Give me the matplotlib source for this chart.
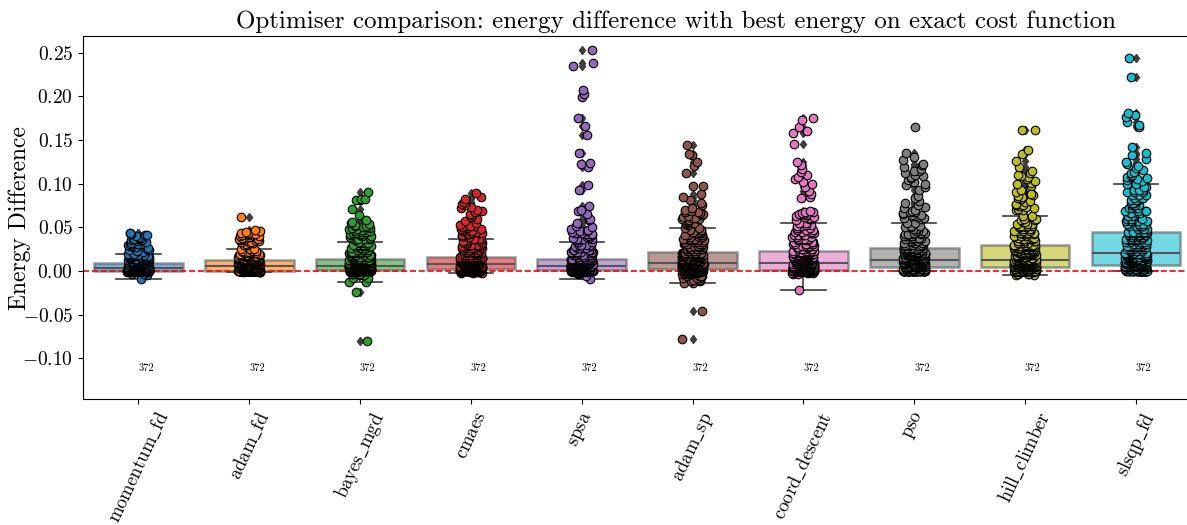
import numpy as np
import matplotlib
matplotlib.use('Agg')
import matplotlib.pyplot as plt

plt.rcParams['font.family'] = 'serif'
plt.rcParams['font.serif'] = ['cmr10', 'DejaVu Serif']
plt.rcParams['mathtext.fontset'] = 'cm'
plt.rcParams['axes.formatter.use_mathtext'] = True

#%% energy differences per optimiser
# dense part near zero is kept as value levels + how many runs hit each level,
# the sparse upper tail is kept run by run
methods = ['momentum_fd', 'adam_fd', 'bayes_mgd', 'cmaes', 'spsa',
           'adam_sp', 'coord_descent', 'pso', 'hill_climber', 'slsqp_fd']

momentum_fd_core = [-0.0095, -0.005, -0.003, -0.001, 0.0, 0.0004, 0.001, 0.002, 0.003, 0.004, 0.005, 0.006, 0.007,
                    0.008, 0.009, 0.010, 0.011, 0.012, 0.013, 0.014, 0.015, 0.016, 0.017, 0.018, 0.0195]
momentum_fd_core_n = [1, 1, 2, 4, 50, 40, 30, 40, 30, 20, 18, 16, 14, 10, 10, 8, 8, 7, 6, 6, 5, 5, 4, 4, 3]
momentum_fd_tail = [0.022, 0.023, 0.024, 0.024, 0.025, 0.026, 0.027, 0.027, 0.028, 0.029, 0.030, 0.031, 0.031, 0.032,
                    0.033, 0.034, 0.035, 0.035, 0.036, 0.036, 0.037, 0.038, 0.038, 0.039, 0.040, 0.041, 0.041, 0.042,
                    0.043, 0.044]

adam_fd_core = [-0.0015, -0.0008, 0.0, 0.0003, 0.001, 0.002, 0.003, 0.004, 0.005, 0.006, 0.007, 0.008, 0.009, 0.010,
                0.011, 0.012, 0.013, 0.014, 0.015, 0.016, 0.017, 0.018, 0.019, 0.020, 0.021, 0.022, 0.023, 0.0248]
adam_fd_core_n = [1, 3, 60, 35, 15, 15, 15, 15, 15, 15, 15, 15, 15, 16, 16, 14, 10, 8, 7, 6, 5, 5, 4, 4, 4, 3, 3, 3]
adam_fd_tail = [0.030, 0.030, 0.031, 0.032, 0.032, 0.033, 0.033, 0.034, 0.034, 0.035, 0.035, 0.036, 0.036, 0.037,
                0.037, 0.038, 0.038, 0.039, 0.040, 0.040, 0.041, 0.041, 0.042, 0.042, 0.043, 0.044, 0.045, 0.046,
                0.047, 0.062]

bayes_mgd_core = [-0.080, -0.0237, -0.0122, -0.008, -0.005, -0.003, -0.001, 0.0, 0.001, 0.002, 0.003, 0.004, 0.005,
                  0.006, 0.007, 0.008, 0.009, 0.010, 0.011, 0.012, 0.013, 0.014, 0.016, 0.018, 0.020, 0.022, 0.024,
                  0.026, 0.028, 0.030, 0.032, 0.0334]
bayes_mgd_core_n = [1, 1, 2, 2, 2, 3, 4, 40, 40, 18, 18, 18, 18, 20, 14, 12, 12, 11, 11, 11, 11, 11, 8, 7, 6, 6, 5,
                    5, 4, 4, 3, 2]
bayes_mgd_tail = [0.035, 0.036, 0.036, 0.037, 0.037, 0.038, 0.038, 0.039, 0.040, 0.040, 0.041, 0.041, 0.042, 0.042,
                  0.043, 0.044, 0.044, 0.045, 0.045, 0.046, 0.046, 0.047, 0.048, 0.048, 0.049, 0.049, 0.050, 0.050,
                  0.051, 0.052, 0.053, 0.054, 0.055, 0.056, 0.058, 0.064, 0.071, 0.081, 0.081, 0.082, 0.082, 0.090]

cmaes_core = [-0.0027, -0.002, -0.001, 0.0, 0.001, 0.002, 0.003, 0.004, 0.005, 0.006, 0.007, 0.008, 0.009, 0.010,
              0.011, 0.012, 0.013, 0.014, 0.015, 0.016, 0.018, 0.020, 0.022, 0.024, 0.026, 0.028, 0.030, 0.032,
              0.034, 0.0365]
cmaes_core_n = [1, 2, 4, 30, 30, 30, 15, 15, 15, 15, 15, 15, 12, 12, 12, 11, 11, 11, 11, 12, 8, 7, 7, 6, 6, 5, 5, 4,
                4, 3]
cmaes_tail = [0.039, 0.040, 0.040, 0.041, 0.042, 0.042, 0.043, 0.044, 0.044, 0.045, 0.046, 0.046, 0.047, 0.048,
              0.048, 0.049, 0.050, 0.050, 0.051, 0.052, 0.053, 0.055, 0.057, 0.060, 0.062, 0.064, 0.065, 0.067,
              0.069, 0.070, 0.072, 0.073, 0.075, 0.077, 0.079, 0.082, 0.085, 0.0896]

spsa_core = [-0.0095, -0.006, -0.004, -0.002, -0.001, 0.0, 0.001, 0.002, 0.003, 0.004, 0.005, 0.006, 0.007, 0.008,
             0.009, 0.010, 0.011, 0.012, 0.013, 0.014, 0.016, 0.018, 0.020, 0.022, 0.024, 0.026, 0.028, 0.030, 0.033]
spsa_core_n = [1, 1, 2, 3, 4, 45, 40, 18, 18, 18, 18, 19, 14, 13, 13, 13, 13, 13, 7, 8, 7, 7, 6, 6, 5, 5, 4, 4, 3]
spsa_tail = [0.035, 0.036, 0.036, 0.037, 0.038, 0.038, 0.039, 0.040, 0.040, 0.041, 0.042, 0.042, 0.043, 0.044,
             0.044, 0.045, 0.046, 0.046, 0.047, 0.048, 0.050, 0.052, 0.055, 0.058, 0.060, 0.065, 0.069, 0.0694,
             0.0748, 0.093, 0.098, 0.119, 0.122, 0.124, 0.135, 0.156, 0.166, 0.175, 0.199, 0.203, 0.207, 0.235,
             0.238, 0.253]

adam_sp_core = [-0.0778, -0.0458, -0.0141, -0.012, -0.010, -0.008, -0.006, -0.004, -0.002, -0.001, 0.0, 0.001,
                0.002, 0.003, 0.004, 0.005, 0.006, 0.007, 0.008, 0.009, 0.010, 0.011, 0.012, 0.013, 0.014, 0.015,
                0.016, 0.017, 0.018, 0.019, 0.020, 0.021, 0.023, 0.025, 0.027, 0.029, 0.031, 0.033, 0.035, 0.037,
                0.039, 0.041, 0.043, 0.045, 0.047, 0.049]
adam_sp_core_n = [1, 1, 2, 2, 3, 3, 4, 5, 6, 6, 30, 30, 12, 12, 12, 12, 12, 12, 12, 10, 8, 8, 8, 7, 7, 7, 7, 7, 7,
                  7, 8, 11, 6, 6, 5, 5, 5, 4, 4, 4, 4, 4, 3, 3, 3, 2]
adam_sp_tail = [0.053, 0.054, 0.055, 0.055, 0.056, 0.057, 0.058, 0.058, 0.059, 0.060, 0.061, 0.061, 0.062, 0.063,
                0.064, 0.065, 0.066, 0.067, 0.068, 0.069, 0.070, 0.072, 0.076, 0.078, 0.081, 0.085, 0.088, 0.097,
                0.0976, 0.1125, 0.120, 0.125, 0.133, 0.134, 0.1438]

coord_descent_core = [-0.0217, -0.004, -0.002, -0.001, 0.0, 0.001, 0.002, 0.003, 0.004, 0.005, 0.006, 0.007, 0.008,
                      0.009, 0.010, 0.011, 0.012, 0.013, 0.014, 0.015, 0.016, 0.017, 0.018, 0.019, 0.020, 0.021,
                      0.022, 0.023, 0.025, 0.027, 0.029, 0.031, 0.033, 0.035, 0.037, 0.039, 0.041, 0.043, 0.045,
                      0.047, 0.049, 0.051, 0.053, 0.0553]
coord_descent_core_n = [1, 2, 3, 4, 40, 45, 11, 11, 11, 11, 11, 12, 12, 12, 8, 8, 8, 7, 7, 7, 7, 6, 6, 6, 6, 6, 6,
                        6, 5, 5, 5, 5, 4, 4, 4, 4, 4, 3, 3, 3, 3, 2, 2, 2]
coord_descent_tail = [0.058, 0.059, 0.060, 0.061, 0.062, 0.062, 0.063, 0.064, 0.065, 0.065, 0.066, 0.067, 0.068,
                      0.069, 0.083, 0.085, 0.088, 0.0915, 0.0965, 0.100, 0.102, 0.105, 0.108, 0.110, 0.1136, 0.117,
                      0.121, 0.125, 0.145, 0.158, 0.160, 0.165, 0.1728, 0.175]

pso_core = [0.0, 0.002, 0.004, 0.005, 0.006, 0.007, 0.008, 0.009, 0.010, 0.011, 0.012, 0.013, 0.014, 0.015, 0.016,
            0.017, 0.018, 0.019, 0.020, 0.021, 0.022, 0.023, 0.024, 0.025, 0.026, 0.028, 0.030, 0.032, 0.034, 0.036,
            0.038, 0.040, 0.042, 0.044, 0.046, 0.048, 0.050, 0.052, 0.0553]
pso_core_n = [50, 25, 20, 10, 10, 10, 10, 10, 10, 10, 11, 11, 8, 8, 8, 7, 7, 7, 7, 7, 7, 7, 7, 6, 7, 5, 5, 5, 4, 4,
              4, 4, 4, 3, 3, 3, 3, 2, 2]
pso_tail = [0.060, 0.061, 0.061, 0.062, 0.063, 0.064, 0.064, 0.065, 0.066, 0.067, 0.068, 0.069, 0.070, 0.072, 0.0736,
            0.076, 0.078, 0.080, 0.083, 0.086, 0.093, 0.0965, 0.098, 0.100, 0.102, 0.104, 0.106, 0.107, 0.109, 0.110,
            0.112, 0.114, 0.115, 0.117, 0.119, 0.121, 0.123, 0.127, 0.130, 0.1354, 0.1644]

hill_climber_core = [-0.0046, -0.003, -0.001, 0.0, 0.002, 0.004, 0.005, 0.006, 0.007, 0.008, 0.009, 0.010, 0.011,
                     0.012, 0.013, 0.014, 0.015, 0.016, 0.017, 0.018, 0.019, 0.020, 0.021, 0.022, 0.023, 0.024,
                     0.025, 0.026, 0.027, 0.028, 0.029, 0.030, 0.032, 0.034, 0.036, 0.038, 0.040, 0.042, 0.044,
                     0.046, 0.048, 0.050, 0.052, 0.054, 0.056, 0.058, 0.060, 0.0633]
hill_climber_core_n = [2, 3, 5, 40, 25, 20, 10, 10, 10, 10, 10, 10, 10, 11, 11, 6, 6, 6, 6, 6, 6, 6, 5, 5, 5, 5, 5,
                       5, 5, 5, 5, 6, 5, 5, 5, 4, 4, 4, 4, 4, 3, 3, 3, 3, 2, 2, 2, 2]
hill_climber_tail = [0.070, 0.070, 0.071, 0.072, 0.073, 0.074, 0.0755, 0.076, 0.077, 0.079, 0.080, 0.082, 0.083,
                     0.085, 0.086, 0.087, 0.090, 0.092, 0.093, 0.095, 0.0976, 0.100, 0.101, 0.103, 0.105, 0.107,
                     0.109, 0.110, 0.112, 0.115, 0.119, 0.126, 0.134, 0.1384, 0.1613, 0.1613, 0.088]

slsqp_fd_core = [0.0, 0.002, 0.004, 0.006, 0.007, 0.008, 0.009, 0.010, 0.011, 0.012, 0.013, 0.014, 0.015, 0.016,
                 0.017, 0.018, 0.019, 0.021, 0.023, 0.025, 0.027, 0.029, 0.031, 0.033, 0.035, 0.037, 0.039, 0.041,
                 0.043, 0.045, 0.048, 0.051, 0.054, 0.057, 0.060, 0.063, 0.066, 0.069, 0.072, 0.075, 0.078, 0.081,
                 0.084, 0.087, 0.090, 0.093, 0.096, 0.0995]
slsqp_fd_core_n = [35, 20, 18, 12, 10, 8, 8, 8, 8, 8, 7, 7, 7, 7, 7, 8, 8, 7, 7, 7, 7, 7, 7, 7, 7, 7, 7, 8, 8, 8, 5,
                   5, 5, 4, 4, 4, 4, 4, 4, 4, 3, 3, 3, 3, 3, 3, 2, 2]
slsqp_fd_tail = [0.103, 0.104, 0.105, 0.106, 0.107, 0.108, 0.109, 0.110, 0.112, 0.113, 0.1156, 0.118, 0.120, 0.123,
                 0.125, 0.128, 0.1327, 0.135, 0.1415, 0.1644, 0.167, 0.171, 0.1758, 0.178, 0.1804, 0.2223, 0.2433]

cores = [momentum_fd_core, adam_fd_core, bayes_mgd_core, cmaes_core, spsa_core,
         adam_sp_core, coord_descent_core, pso_core, hill_climber_core, slsqp_fd_core]
core_ns = [momentum_fd_core_n, adam_fd_core_n, bayes_mgd_core_n, cmaes_core_n, spsa_core_n,
           adam_sp_core_n, coord_descent_core_n, pso_core_n, hill_climber_core_n, slsqp_fd_core_n]
tails = [momentum_fd_tail, adam_fd_tail, bayes_mgd_tail, cmaes_tail, spsa_tail,
         adam_sp_tail, coord_descent_tail, pso_tail, hill_climber_tail, slsqp_fd_tail]

energy_diff = [np.concatenate([np.repeat(c, n), t]) for c, n, t in zip(cores, core_ns, tails)]

#%% plot
colors = plt.cm.tab10.colors
pos = np.arange(len(methods))
edge_grey = '#3d3d3d'

fig = plt.figure(figsize=(11.87, 5.25), dpi=100)
ax = fig.add_axes([0.0699, 0.2394, 0.9337, 0.6920])

bp = ax.boxplot(energy_diff, positions=pos, widths=0.8, patch_artist=True,
                boxprops=dict(linewidth=1.8),
                medianprops=dict(color='#555555', linewidth=1.5),
                whiskerprops=dict(color=edge_grey, linewidth=1.2),
                capprops=dict(color=edge_grey, linewidth=1.2),
                flierprops=dict(marker='d', markerfacecolor=edge_grey, markeredgecolor=edge_grey,
                                markersize=4.5),
                zorder=1)
for box, c in zip(bp['boxes'], colors):
    box.set_facecolor(c)
    box.set_edgecolor('#5a5a5a')
    box.set_alpha(0.6)

ax.axhline(0, color='red', linestyle='--', linewidth=1.2, zorder=2)

# jittered strip of every run on top of the boxes
rng = np.random.default_rng(7)
for i, (vals, c) in enumerate(zip(energy_diff, colors)):
    x = i + rng.uniform(-0.1, 0.1, len(vals))
    ax.scatter(x, vals, s=38, color=c, edgecolor='black', linewidth=0.8, zorder=3)
    ax.text(i, -0.1145, f'{len(vals)}', fontsize=7.5)

# cmr10 has no underscore glyph, so names go through mathtext
tick_names = [r'$\mathrm{' + m.replace('_', r'\_') + '}$' for m in methods]

ax.set_xlim(-0.5, len(methods) - 0.5)
ax.set_ylim(-0.147, 0.269)
ax.set_xticks(pos)
ax.set_xticklabels(tick_names, rotation=65, fontsize=13.5)
ax.set_yticks([-0.10, -0.05, 0.0, 0.05, 0.10, 0.15, 0.20, 0.25])
ax.tick_params(axis='y', labelsize=14)
ax.set_ylabel('Energy Difference', fontsize=17)
ax.yaxis.set_label_coords(-0.047, 0.5)
ax.set_title('Optimiser comparison: energy difference with best energy on exact cost function',
             fontsize=18, x=0.535)

fig.savefig('out.png', dpi=100)
